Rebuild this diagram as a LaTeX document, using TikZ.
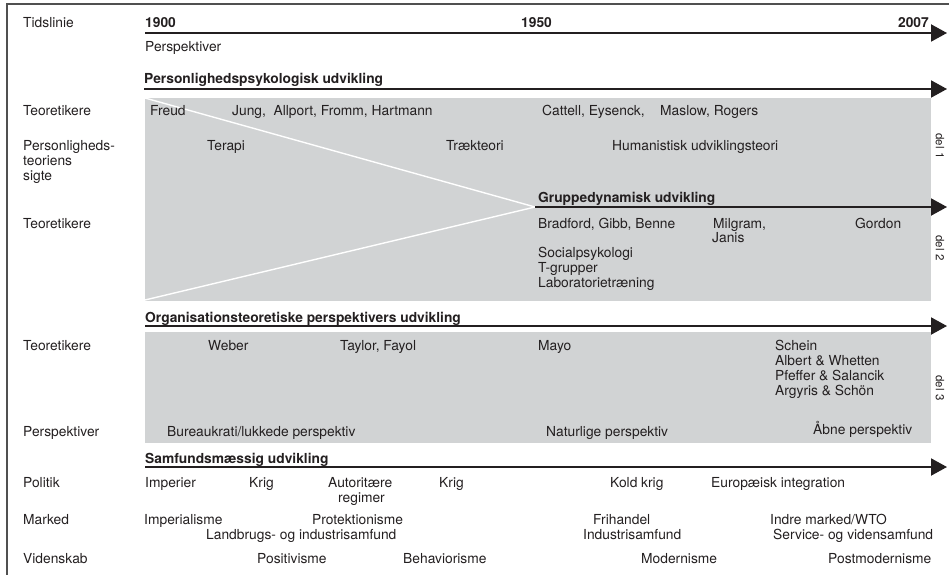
\documentclass[tikz,border=0pt]{standalone}
\usepackage{fontspec}
\setmainfont{TeX Gyre Heros}
\usetikzlibrary{arrows.meta}
\definecolor{ink}{HTML}{231F20}
\definecolor{panel}{HTML}{D1D3D4}
\definecolor{framec}{HTML}{505050}
\tikzset{
  txt/.style={anchor=base west, inner sep=0pt, text=ink, font=\fontsize{13.8}{15}\selectfont},
  txte/.style={txt, anchor=base east},
  ttl/.style={txt, font=\fontsize{13.8}{15}\selectfont\bfseries},
  tline/.style={draw=ink, line width=2pt, -{Triangle[length=16pt,width=17pt]}},
  dellbl/.style={inner sep=0pt, text=ink, font=\fontsize{11.5}{13}\selectfont, rotate=-90},
  panelbox/.style={fill=panel, draw=none},
  wline/.style={draw=white, line width=1.4pt},
  framel/.style={draw=framec, line width=2pt}
}
\begin{document}
\begin{tikzpicture}[x=1pt,y=-1pt]
\useasboundingbox (0,0) rectangle (949,575);
% frame
\draw[framel] (949,4.5) -- (7,4.5) -- (7,575);
% panels
\fill[panelbox] (145,98) rectangle (931,301);
\fill[panelbox] (145,332) rectangle (931,443);
\coordinate (wA) at (145,98);
\coordinate (wB) at (145,300);
\coordinate (gS) at (535,207);
\draw[wline] (wA) -- (gS) -- (wB);
% arrows
\coordinate (t0) at (145,33);   \coordinate (t1) at (947,33);
\coordinate (p0) at (144,89);   \coordinate (p1) at (947,89);
\coordinate (g1) at (947,207);
\coordinate (o0) at (145,326);  \coordinate (o1) at (947,326);
\coordinate (s0) at (145,467);  \coordinate (s1) at (947,467);
\draw[tline] (t0) -- (t1);
\draw[tline] (p0) -- (p1);
\draw[tline] (gS) -- (g1);
\draw[tline] (o0) -- (o1);
\draw[tline] (s0) -- (s1);
% timeline
\node[txt] (tidslinie) at (23,28) {Tidslinie};
\node[ttl] (y1900) at (145,28) {1900};
\node[ttl] (y1950) at (521,28) {1950};
\node[ttl,anchor=base east] (y2007) at (929,28) {2007};
\node[txt] (persp0) at (145,52) {Perspektiver};
% del 1
\node[ttl] (pers) at (144,84) {Personlighedspsykologisk udvikling};
\node[txt] (teo1) at (23,115) {Teoretikere};
\node[txt] (freud) at (150,115) {Freud};
\node[txt] (jung) at (232,115) {Jung,\ \ Allport, Fromm, Hartmann};
\node[txt] (cattell) at (542,115) {Cattell, Eysenck,};
\node[txt] (maslow) at (660,115) {Maslow, Rogers};
\node[txt] (sigteA) at (23,150) {Personligheds-};
\node[txt] (sigteB) at (23,165) {teoriens};
\node[txt] (sigteC) at (23,180) {sigte};
\node[txt] (terapi) at (207,150) {Terapi};
\node[txt] (traek) at (446,150) {Trækteori};
\node[txt] (human) at (612,150) {Humanistisk udviklingsteori};
\node[dellbl] (del1) at (940,146) {del 1};
% del 2
\node[ttl] (grp) at (538,202) {Gruppedynamisk udvikling};
\node[txt] (teo2) at (23,228) {Teoretikere};
\node[txt] (bradford) at (538,228) {Bradford, Gibb, Benne};
\node[txt] (milgram) at (713,228) {Milgram,};
\node[txt] (janis) at (712,242) {Janis};
\node[txt] (gordon) at (855,228) {Gordon};
\node[txt] (socps) at (538,257) {Socialpsykologi};
\node[txt] (tgrp) at (538,272) {T-grupper};
\node[txt] (lab) at (538,287) {Laboratorietræning};
\node[dellbl] (del2) at (940,248) {del 2};
% del 3
\node[ttl] (org) at (145,322) {Organisationsteoretiske perspektivers udvikling};
\node[txt] (teo3) at (23,350) {Teoretikere};
\node[txt] (weber) at (208,350) {Weber};
\node[txt] (taylor) at (340,350) {Taylor, Fayol};
\node[txt] (mayo) at (538,350) {Mayo};
\node[txt] (schein) at (775,350) {Schein};
\node[txt] (albert) at (775,365) {Albert \& Whetten};
\node[txt] (pfeffer) at (775,380) {Pfeffer \& Salancik};
\node[txt] (argyris) at (775,395) {Argyris \& Schön};
\node[dellbl] (del3) at (940,388) {del 3};
\node[txt] (persp3) at (23,436) {Perspektiver};
\node[txt] (bureau) at (167,436) {Bureaukrati/lukkede perspektiv};
\node[txt] (natur) at (546,436) {Naturlige perspektiv};
\node[txt] (aabne) at (813,434) {Åbne perspektiv};
% samfund
\node[ttl] (samf) at (145,463) {Samfundsmæssig udvikling};
\node[txt] (politik) at (23,487) {Politik};
\node[txt] (imperier) at (145,487) {Imperier};
\node[txt] (krig1) at (249,487) {Krig};
\node[txt] (autor) at (328,487) {Autoritære};
\node[txt] (regimer) at (338,502) {regimer};
\node[txt] (krig2) at (439,487) {Krig};
\node[txt] (kold) at (610,487) {Kold krig};
\node[txt] (europa) at (711,487) {Europæisk integration};
\node[txt] (marked) at (23,524) {Marked};
\node[txt] (imperial) at (144,524) {Imperialisme};
\node[txt] (protek) at (312,524) {Protektionisme};
\node[txt] (landbrug) at (206,539) {Landbrugs- og industrisamfund};
\node[txt] (frihandel) at (593,524) {Frihandel};
\node[txt] (industri) at (583,539) {Industrisamfund};
\node[txt] (indre) at (770,524) {Indre marked/WTO};
\node[txt] (service) at (773,539) {Service- og vidensamfund};
\node[txt] (videnskab) at (23,563) {Videnskab};
\node[txt] (positiv) at (257,563) {Positivisme};
\node[txt] (behav) at (403,563) {Behaviorisme};
\node[txt] (modern) at (641,563) {Modernisme};
\node[txt] (postmod) at (828,563) {Postmodernisme};
\end{tikzpicture}
\end{document}
